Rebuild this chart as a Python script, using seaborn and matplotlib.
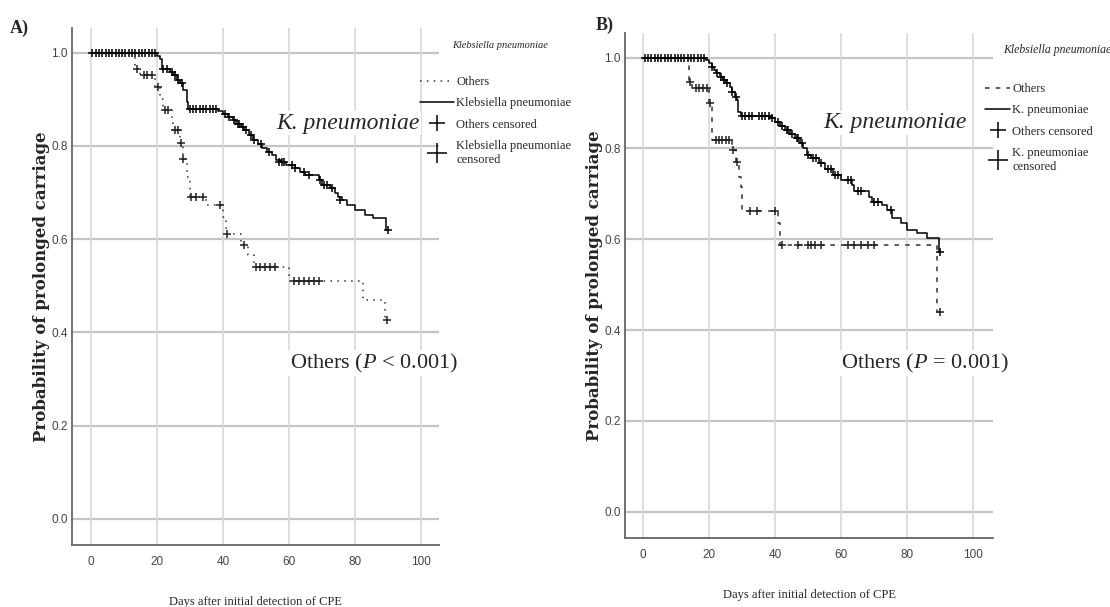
import matplotlib
matplotlib.use("Agg")
import matplotlib.pyplot as plt
from matplotlib.lines import Line2D
import seaborn as sns

# ---- Panel A: step points of the Kaplan-Meier curves (day, probability)
a_kp_t = [0, 20, 21, 21.5, 24, 25, 26, 27, 28, 29, 29.5, 38.5, 40, 41.5, 43, 44, 45.5,
          46.5, 48, 49, 50.5, 52, 53.5, 55, 56, 57.5, 59, 62, 63.5, 65, 69, 70, 72.5,
          74, 75, 76, 77.5, 80, 83, 85.5, 89.5, 90]
a_kp_s = [1.0, 0.993, 0.987, 0.966, 0.959, 0.952, 0.941, 0.934, 0.920, 0.895, 0.880,
          0.875, 0.868, 0.862, 0.855, 0.848, 0.841, 0.834, 0.823, 0.812, 0.805, 0.795,
          0.787, 0.780, 0.770, 0.766, 0.759, 0.752, 0.745, 0.737, 0.727, 0.716, 0.709,
          0.700, 0.691, 0.684, 0.673, 0.662, 0.652, 0.645, 0.620, 0.620]
a_kp_cens_t = [0.5, 1.5, 2.5, 3.5, 4.5, 5.5, 6.5, 7.5, 8.5, 9.5, 10.5, 11.5, 12.5, 13.5,
               14.5, 15.5, 16.5, 17.5, 18.5, 19.3, 22, 23, 24.5, 25.5, 26.5, 27.5, 30,
               31, 32, 33, 34, 35, 36, 37, 38, 40.5, 42, 43.5, 44.5, 45, 46, 47, 48.5,
               49.5, 51.5, 54, 57, 58, 58.5, 61, 62, 64.5, 66, 69.5, 70.5, 71.5, 73,
               75.5, 90]
a_kp_cens_s = [1.0] * 20 + [0.966, 0.966, 0.959, 0.952, 0.941, 0.934, 0.880, 0.880,
               0.880, 0.880, 0.880, 0.880, 0.880, 0.880, 0.880, 0.868, 0.862, 0.855,
               0.848, 0.848, 0.841, 0.834, 0.823, 0.812, 0.805, 0.787, 0.766, 0.766,
               0.766, 0.759, 0.752, 0.745, 0.737, 0.727, 0.716, 0.716, 0.709, 0.684,
               0.620]

a_ot_t = [0, 13.5, 15, 19.5, 21, 22, 24.5, 25, 27, 28, 29, 30, 35, 40, 41, 45.5, 47.5,
          49.5, 60, 82.5, 89, 90]
a_ot_s = [1.0, 0.964, 0.952, 0.927, 0.901, 0.877, 0.849, 0.835, 0.806, 0.773, 0.734,
          0.691, 0.673, 0.648, 0.612, 0.587, 0.566, 0.541, 0.510, 0.469, 0.427, 0.427]
a_ot_cens_t = [14, 16, 17, 18.5, 20.3, 22.5, 23.5, 25.5, 26.3, 27.2, 28, 30.2, 32, 34,
               39, 41.2, 46.5, 50, 51.3, 52.8, 54.3, 55.8, 61.5, 63, 64.5, 66, 67.5,
               69, 89.8]
a_ot_cens_s = [0.964, 0.952, 0.952, 0.952, 0.927, 0.877, 0.877, 0.835, 0.835, 0.806,
               0.773, 0.691, 0.691, 0.691, 0.673, 0.612, 0.587, 0.541, 0.541, 0.541,
               0.541, 0.541, 0.510, 0.510, 0.510, 0.510, 0.510, 0.510, 0.427]

# ---- Panel B
b_kp_t = [0, 19, 20, 20.7, 21.5, 22.2, 23.2, 24.2, 25.2, 26.2, 26.8, 27.7, 28.4, 28.7,
          29.5, 38.5, 40, 41.5, 43, 44.5, 46, 47.5, 48.5, 49.5, 51, 53.4, 55, 57.4,
          59.9, 63.4, 64, 68.5, 69.2, 72.5, 74, 75.5, 78, 80, 83, 86, 89.5, 90]
b_kp_s = [1.0, 0.995, 0.987, 0.980, 0.972, 0.965, 0.958, 0.951, 0.944, 0.936, 0.925,
          0.914, 0.906, 0.881, 0.871, 0.866, 0.859, 0.850, 0.840, 0.831, 0.822, 0.811,
          0.800, 0.785, 0.778, 0.767, 0.755, 0.741, 0.730, 0.719, 0.707, 0.693, 0.682,
          0.675, 0.664, 0.646, 0.635, 0.620, 0.613, 0.602, 0.572, 0.572]
b_kp_cens_t = [0.5, 1.5, 2.5, 3.5, 4.5, 5.5, 6.5, 7.5, 8.5, 9.5, 10.5, 11.5, 12.5, 13.5,
               14.5, 15.5, 16.5, 17.5, 18.5, 21, 22.5, 23.5, 24.5, 25.5, 27, 28, 30, 31,
               32, 33, 35, 36, 37, 38, 39, 41, 42, 43.5, 44, 45, 46.5, 47, 48, 50, 51.5,
               52.5, 54, 56, 57, 58, 59, 62, 63, 65, 66, 70, 71, 75, 90]
b_kp_cens_s = [1.0] * 19 + [0.980, 0.965, 0.958, 0.951, 0.944, 0.925, 0.914, 0.871,
               0.871, 0.871, 0.871, 0.871, 0.871, 0.871, 0.871, 0.866, 0.859, 0.850,
               0.840, 0.840, 0.831, 0.822, 0.822, 0.811, 0.785, 0.778, 0.778, 0.767,
               0.755, 0.755, 0.741, 0.741, 0.730, 0.730, 0.707, 0.707, 0.682, 0.682,
               0.664, 0.572]

b_ot_t = [0, 14, 14.8, 20, 21, 26.8, 28, 29, 29.5, 30, 40.8, 41.5, 89, 90]
b_ot_s = [1.0, 0.947, 0.932, 0.899, 0.818, 0.796, 0.770, 0.737, 0.715, 0.663, 0.635,
          0.587, 0.440, 0.440]
b_ot_cens_t = [14.2, 16, 17, 18, 19.4, 20.2, 22, 23, 24, 25, 26, 27.2, 28.3, 32.5, 34.5,
               39.8, 42, 47, 50, 51, 52, 54, 62, 64, 66, 68, 70, 90]
b_ot_cens_s = [0.947, 0.932, 0.932, 0.932, 0.932, 0.899, 0.818, 0.818, 0.818, 0.818,
               0.818, 0.796, 0.770, 0.663, 0.663, 0.663, 0.587, 0.587, 0.587, 0.587,
               0.587, 0.587, 0.587, 0.587, 0.587, 0.587, 0.587, 0.440]

x_ticks = [0, 20, 40, 60, 80, 100]
y_ticks = [0.0, 0.2, 0.4, 0.6, 0.8, 1.0]

sns.set_theme(style="white")
plt.rcParams["font.family"] = ["Liberation Serif", "DejaVu Serif"]
plt.rcParams["mathtext.fontset"] = "custom"
plt.rcParams["mathtext.rm"] = "Liberation Serif"
plt.rcParams["mathtext.it"] = "Liberation Serif:italic"

TICK_FONT = ["Liberation Sans Narrow", "Liberation Sans"]

fig = plt.figure(figsize=(11.10, 6.07), dpi=100)
ax_a = fig.add_axes([0.0649, 0.1021, 0.3306, 0.8518])
ax_b = fig.add_axes([0.5631, 0.1137, 0.3315, 0.8319])


def draw_panel(ax, kp_t, kp_s, kp_ct, kp_cs, ot_t, ot_s, ot_ct, ot_cs, ot_ls, ylim, xlim):
    for yv in y_ticks:
        ax.axhline(yv, color="#c4c4c4", lw=1.6, zorder=0)
    for xv in x_ticks:
        ax.axvline(xv, color="#d8d8d8", lw=1.2, zorder=0)

    sns.lineplot(x=ot_t, y=ot_s, drawstyle="steps-post", estimator=None, sort=False,
                 color="#333333", lw=1.1, linestyle=ot_ls, ax=ax, zorder=2)
    sns.lineplot(x=kp_t, y=kp_s, drawstyle="steps-post", estimator=None, sort=False,
                 color="black", lw=1.1, ax=ax, zorder=3)
    sns.scatterplot(x=ot_ct, y=ot_cs, marker="+", s=30, color="#222222",
                    linewidth=1.1, ax=ax, zorder=4)
    sns.scatterplot(x=kp_ct, y=kp_cs, marker="+", s=30, color="black",
                    linewidth=1.1, ax=ax, zorder=4)

    ax.set_xlim(*xlim)
    ax.set_ylim(*ylim)
    ax.set_xticks(x_ticks)
    ax.set_yticks(y_ticks)
    ax.set_xticklabels([str(v) for v in x_ticks], family=TICK_FONT, fontsize=8.5,
                       color="#444444")
    ax.set_yticklabels([f"{v:.1f}" for v in y_ticks], family=TICK_FONT, fontsize=8.5,
                       color="#444444")
    ax.tick_params(length=0, pad=3)
    ax.tick_params(axis="x", pad=8)
    for side in ["top", "right"]:
        ax.spines[side].set_visible(False)
    for side in ["left", "bottom"]:
        ax.spines[side].set_color("#666666")
        ax.spines[side].set_linewidth(1.3)
    ax.set_ylabel("Probability of prolonged carriage", family="DejaVu Serif",
                  fontweight="bold", fontsize=12, labelpad=1)
    ax.set_xlabel("Days after initial detection of CPE", fontsize=9, labelpad=20)


draw_panel(ax_a, a_kp_t, a_kp_s, a_kp_cens_t, a_kp_cens_s,
           a_ot_t, a_ot_s, a_ot_cens_t, a_ot_cens_s, (0, (1, 3.5)),
           (-0.056, 1.053), (-5.7, 105.5))
draw_panel(ax_b, b_kp_t, b_kp_s, b_kp_cens_t, b_kp_cens_s,
           b_ot_t, b_ot_s, b_ot_cens_t, b_ot_cens_s, (0, (3, 4)),
           (-0.058, 1.054), (-5.5, 106))

# panel letters
fig.text(10 / 1110, 1 - 28 / 607, "A)", fontsize=13, fontweight="bold", va="center")
fig.text(596 / 1110, 1 - 25 / 607, "B)", fontsize=13, fontweight="bold", va="center")

# annotations inside the plots
box = dict(facecolor="white", edgecolor="none", pad=1)
ax_a.text(77.8, 0.849, "K. pneumoniae", style="italic", fontsize=17, ha="center",
          va="center", bbox=box, zorder=5, clip_on=False)
ax_a.text(85.7, 0.334, r"Others ($\mathit{P}$ < 0.001)", fontsize=16, ha="center",
          va="center", bbox=box, zorder=5, clip_on=False)
ax_b.text(76.3, 0.856, "K. pneumoniae", style="italic", fontsize=17, ha="center",
          va="center", bbox=box, zorder=5, clip_on=False)
ax_b.text(85.5, 0.327, r"Others ($\mathit{P}$ = 0.001)", fontsize=16, ha="center",
          va="center", bbox=box, zorder=5, clip_on=False)


def add_legend(ax, kp_name, ot_ls, x_px, y_px, hlen, title_x, title_y, title_size):
    handles = [
        Line2D([], [], color="#333333", lw=1.1, linestyle=ot_ls),
        Line2D([], [], color="black", lw=1.1),
        Line2D([], [], color="black", marker="+", markersize=12, mew=1.1, lw=0),
        Line2D([], [], color="black", marker="+", markersize=15, mew=1.1, lw=0),
    ]
    labels = ["Others", kp_name, "Others censored", kp_name + "\ncensored"]
    ax.legend(handles, labels, loc="upper left",
              bbox_to_anchor=(x_px / 1110, 1 - y_px / 607),
              bbox_transform=fig.transFigure, frameon=False, fontsize=9,
              handlelength=hlen, handletextpad=0.2, labelspacing=0.75,
              borderaxespad=0, borderpad=0)
    fig.text(title_x / 1110, 1 - title_y / 607, "Klebsiella pneumoniae",
             style="italic", fontsize=title_size, va="center")


add_legend(ax_a, "Klebsiella pneumoniae", (0, (1, 3.5)), 420, 76, 2.7, 452, 45, 7.5)
add_legend(ax_b, "K. pneumoniae", (0, (3, 4)), 985, 83, 2.0, 1003, 50, 8.5)

fig.savefig("out.png", dpi=100)
